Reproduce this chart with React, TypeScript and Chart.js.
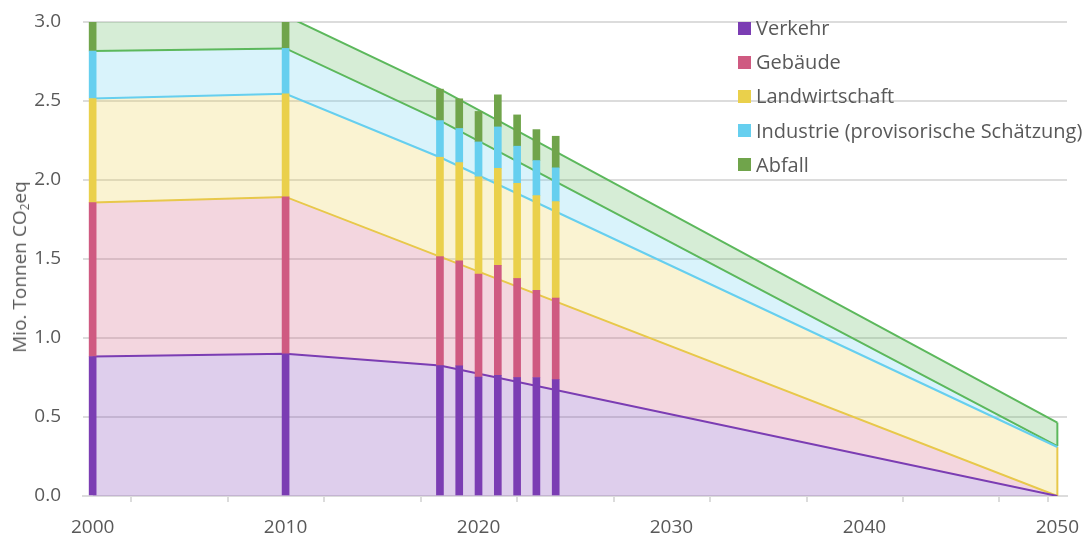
import React, { useEffect, useRef } from "react";
import { Chart, registerables } from "chart.js";

Chart.register(...registerables);

// ---- Data ----
const barYears = [2000, 2010, 2018, 2019, 2020, 2021, 2022, 2023, 2024];
const verkehr = [0.883, 0.9, 0.826, 0.824, 0.752, 0.763, 0.75, 0.75, 0.737];
const gebaeude = [0.974, 0.993, 0.689, 0.665, 0.653, 0.697, 0.627, 0.551, 0.516];
const landwirtschaft = [0.659, 0.653, 0.629, 0.621, 0.615, 0.614, 0.602, 0.6, 0.61];
const industrie = [0.3, 0.287, 0.232, 0.216, 0.221, 0.262, 0.235, 0.222, 0.214];
const abfall = [0.2, 0.207, 0.199, 0.188, 0.193, 0.203, 0.198, 0.196, 0.2];

const pathYears = [2000, 2010, 2018, 2050];
const pathVerkehr = [0.883, 0.9, 0.826, 0];
const pathGebaeude = [0.974, 0.993, 0.689, 0];
const pathLandwirtschaft = [0.659, 0.653, 0.629, 0.31];
const pathIndustrie = [0.3, 0.287, 0.232, 0.005];
const pathAbfall = [0.2, 0.207, 0.199, 0.15];

const seriesNames = [
  "Verkehr",
  "Gebäude",
  "Landwirtschaft",
  "Industrie (provisorische Schätzung)",
  "Abfall",
];
const xLabelYears = [2000, 2010, 2020, 2030, 2040, 2050];
const xTickMarks = [2002, 2007, 2012, 2017, 2022, 2027, 2032, 2037, 2042, 2047, 2049.5];
const yTicks = [0, 0.5, 1, 1.5, 2, 2.5, 3];

// ---- Styles ----
const barColors = ["#7b3db3", "#cf5a81", "#ead04b", "#66cfef", "#70a44b"];
const fillColors = [
  "rgba(123,61,179,0.25)",
  "rgba(207,90,129,0.25)",
  "rgba(234,208,75,0.25)",
  "rgba(102,207,239,0.25)",
  "rgba(92,184,92,0.25)",
];
const lineColors = ["#7b3db3", "#e8c84a", "#66cfef", "#5cb85c", "#5cb85c"];
const FONT = "'Open Sans', 'Noto Sans', sans-serif";
const TEXT = "#595959";
const GRID = "#dcdcdc";

export default function App() {
  const ref = useRef<HTMLCanvasElement | null>(null);

  useEffect(() => {
    if (!ref.current) return;
    const barSeries = [verkehr, gebaeude, landwirtschaft, industrie, abfall];
    const pathSeries = [pathVerkehr, pathGebaeude, pathLandwirtschaft, pathIndustrie, pathAbfall];

    const lineSets: any[] = pathSeries.map((vals, i) => ({
      type: "line",
      label: seriesNames[i] + " Pfad",
      data: pathYears.map((x, j) => ({ x, y: vals[j] })),
      stack: "area",
      fill: i === 0 ? "origin" : "-1",
      backgroundColor: fillColors[i],
      borderColor: lineColors[i],
      borderWidth: 2,
      pointRadius: 0,
      tension: 0,
      order: 2,
    }));

    const barSets: any[] = barSeries.map((vals, i) => ({
      type: "bar",
      label: seriesNames[i],
      data: barYears.map((x, j) => ({ x, y: vals[j] })),
      stack: "bars",
      backgroundColor: barColors[i],
      borderWidth: 0,
      barThickness: 7,
      order: 1,
    }));

    // right edges of the path areas at the last year
    const last = pathYears.length - 1;
    const endX = pathYears[last];
    const cumG = pathVerkehr[last] + pathGebaeude[last];
    const cumL = cumG + pathLandwirtschaft[last];
    const cumI = cumL + pathIndustrie[last];
    const cumA = cumI + pathAbfall[last];
    const edgeSets: any[] = [
      {
        type: "line",
        label: "edgeL",
        data: [
          { x: endX, y: cumG },
          { x: endX, y: cumL },
        ],
        borderColor: lineColors[1],
        borderWidth: 2,
        pointRadius: 0,
        fill: false,
        order: 2,
      },
      {
        type: "line",
        label: "edgeA",
        data: [
          { x: endX, y: cumI },
          { x: endX, y: cumA },
        ],
        borderColor: lineColors[4],
        borderWidth: 2,
        pointRadius: 0,
        fill: false,
        order: 2,
      },
    ];

    const allTicks = [...xLabelYears, ...xTickMarks].sort((a, b) => a - b);

    const chart = new Chart(ref.current, {
      type: "bar",
      data: { datasets: [...lineSets, ...barSets, ...edgeSets] },
      options: {
        responsive: false,
        animation: false,
        layout: { padding: { top: 22, right: 20, left: 0, bottom: 0 } },
        plugins: {
          legend: { display: false },
          tooltip: { enabled: false },
          filler: { drawTime: "beforeDatasetsDraw" },
        },
        scales: {
          x: {
            type: "linear",
            min: 1999.5,
            max: 2050.5,
            offset: false,
            afterFit: (s: any) => {
              s.height = 40;
              s.paddingLeft = 0;
              s.paddingRight = 0;
            },
            afterBuildTicks: (s: any) => {
              s.ticks = allTicks.map((v) => ({ value: v }));
            },
            ticks: {
              autoSkip: false,
              maxRotation: 0,
              padding: 14,
              font: { family: FONT, size: 19 },
              color: TEXT,
              callback: (v: any) => (xLabelYears.includes(Number(v)) ? String(v) : ""),
            },
            grid: {
              offset: false,
              drawOnChartArea: false,
              drawTicks: true,
              tickLength: 6,
              lineWidth: 2,
              color: (ctx: any) =>
                ctx.tick && xLabelYears.includes(ctx.tick.value) ? "rgba(0,0,0,0)" : GRID,
            },
            border: { display: true, color: GRID, width: 2 },
          },
          y: {
            min: 0,
            max: 3,
            afterFit: (s: any) => {
              s.width = 83;
              s.paddingTop = 0;
              s.paddingBottom = 0;
            },
            afterBuildTicks: (s: any) => {
              s.ticks = yTicks.map((v) => ({ value: v }));
            },
            ticks: {
              padding: 22,
              font: { family: FONT, size: 19 },
              color: TEXT,
              callback: (v: any) => Number(v).toFixed(1),
            },
            grid: { color: GRID, lineWidth: 2, drawTicks: false },
            border: { display: false },
          },
        },
      } as any,
    });
    return () => chart.destroy();
  }, []);

  return (
    <div
      style={{
        position: "fixed",
        left: 0,
        top: 0,
        width: 1087,
        height: 536,
        background: "#fff",
        fontFamily: FONT,
        color: TEXT,
      }}
    >
      <canvas ref={ref} width={1087} height={536} style={{ display: "block" }} />
      <div
        style={{
          position: "absolute",
          left: 22,
          top: 267,
          transform: "translate(-50%, -50%) rotate(-90deg)",
          whiteSpace: "nowrap",
          fontSize: 19,
          lineHeight: "22px",
        }}
      >
        Mio. Tonnen CO<sub style={{ fontSize: 12, verticalAlign: "-3px" }}>2</sub>eq
      </div>
      {seriesNames.map((name, i) => (
        <div
          key={name}
          style={{
            position: "absolute",
            left: 738,
            top: 11 + i * 34.2,
            height: 34,
            display: "flex",
            alignItems: "center",
            whiteSpace: "nowrap",
            fontSize: 20,
            lineHeight: "24px",
          }}
        >
          <span
            style={{
              display: "inline-block",
              width: 13,
              height: 13,
              background: barColors[i],
              marginRight: 5,
            }}
          />
          {name}
        </div>
      ))}
    </div>
  );
}
